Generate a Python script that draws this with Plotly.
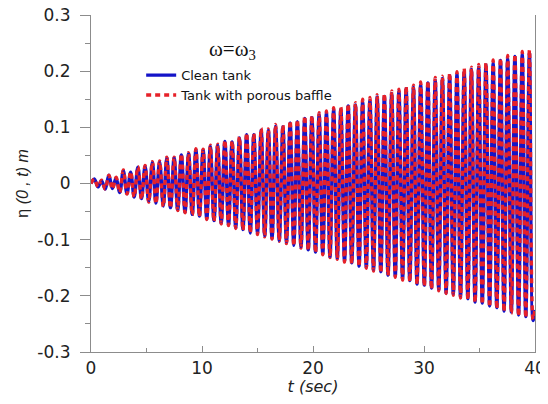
import plotly.graph_objects as go

# ---- data (extrema of the free-surface elevation) ----
peak_t = [0.30, 0.95, 1.61, 2.26, 2.91, 3.57, 4.22, 4.87, 5.53, 6.18,
          6.83, 7.49, 8.14, 8.79, 9.45, 10.10, 10.75, 11.41, 12.06, 12.71,
          13.37, 14.02, 14.67, 15.33, 15.98, 16.63, 17.29, 17.94, 18.59, 19.25,
          19.90, 20.55, 21.21, 21.86, 22.51, 23.17, 23.82, 24.47, 25.13, 25.78,
          26.43, 27.09, 27.74, 28.39, 29.05, 29.70, 30.35, 31.01, 31.66, 32.31,
          32.97, 33.62, 34.27, 34.93, 35.58, 36.23, 36.89, 37.54, 38.19, 38.85,
          39.50]
trough_t = [0.63, 1.28, 1.93, 2.59, 3.24, 3.89, 4.55, 5.20, 5.85, 6.51,
            7.16, 7.81, 8.47, 9.12, 9.77, 10.43, 11.08, 11.73, 12.39, 13.04,
            13.69, 14.35, 15.00, 15.65, 16.31, 16.96, 17.61, 18.27, 18.92, 19.57,
            20.23, 20.88, 21.53, 22.19, 22.84, 23.49, 24.15, 24.80, 25.45, 26.11,
            26.76, 27.41, 28.07, 28.72, 29.37, 30.03, 30.68, 31.33, 31.99, 32.64,
            33.29, 33.95, 34.60, 35.25, 35.91, 36.56, 37.21, 37.87, 38.52, 39.17,
            39.83]

clean_peaks = [0.008, 0.005, 0.015, 0.010, 0.023, 0.020, 0.029, 0.031, 0.038, 0.039,
               0.046, 0.046, 0.051, 0.053, 0.060, 0.060, 0.066, 0.068, 0.075, 0.074,
               0.081, 0.087, 0.087, 0.095, 0.095, 0.102, 0.101, 0.108, 0.110, 0.116,
               0.117, 0.122, 0.125, 0.131, 0.132, 0.138, 0.140, 0.145, 0.148, 0.154,
               0.155, 0.160, 0.164, 0.169, 0.171, 0.176, 0.179, 0.184, 0.187, 0.192,
               0.195, 0.199, 0.203, 0.207, 0.211, 0.214, 0.219, 0.222, 0.226, 0.230,
               0.233]
clean_troughs = [-0.006, -0.010, -0.009, -0.016, -0.018, -0.024, -0.027, -0.032, -0.035, -0.040,
                 -0.043, -0.047, -0.051, -0.055, -0.058, -0.063, -0.066, -0.071, -0.074, -0.079,
                 -0.082, -0.088, -0.089, -0.094, -0.098, -0.102, -0.106, -0.110, -0.114, -0.118,
                 -0.122, -0.125, -0.131, -0.133, -0.138, -0.141, -0.147, -0.149, -0.154, -0.157,
                 -0.163, -0.165, -0.170, -0.173, -0.179, -0.181, -0.186, -0.189, -0.195, -0.197,
                 -0.202, -0.205, -0.211, -0.213, -0.218, -0.221, -0.227, -0.229, -0.234, -0.237,
                 -0.244]

baffle_peaks = [0.008, 0.006, 0.015, 0.011, 0.024, 0.021, 0.030, 0.032, 0.039, 0.040,
                0.047, 0.047, 0.053, 0.055, 0.062, 0.061, 0.068, 0.070, 0.077, 0.076,
                0.083, 0.090, 0.089, 0.098, 0.097, 0.105, 0.104, 0.112, 0.114, 0.120,
                0.121, 0.126, 0.129, 0.135, 0.136, 0.142, 0.144, 0.150, 0.153, 0.158,
                0.160, 0.165, 0.168, 0.173, 0.175, 0.181, 0.183, 0.189, 0.191, 0.197,
                0.199, 0.205, 0.207, 0.212, 0.215, 0.220, 0.223, 0.228, 0.230, 0.235,
                0.238]
baffle_troughs = [-0.006, -0.010, -0.010, -0.016, -0.019, -0.024, -0.028, -0.033, -0.036, -0.041,
                  -0.044, -0.048, -0.052, -0.056, -0.059, -0.064, -0.067, -0.072, -0.075, -0.080,
                  -0.083, -0.088, -0.091, -0.095, -0.099, -0.103, -0.107, -0.111, -0.115, -0.119,
                  -0.123, -0.127, -0.132, -0.135, -0.140, -0.143, -0.148, -0.151, -0.156, -0.159,
                  -0.164, -0.167, -0.172, -0.175, -0.180, -0.183, -0.188, -0.191, -0.196, -0.199,
                  -0.204, -0.207, -0.212, -0.215, -0.220, -0.223, -0.228, -0.231, -0.236, -0.239,
                  -0.242]

t_start, t_end = 0.0, 40.0
clean_start, clean_end = 0.0, -0.225
baffle_start, baffle_end = 0.0, -0.222

series_names = ["Clean tank", "Tank with porous baffle"]

x_tick_vals = [0, 10, 20, 30, 40]
x_tick_text = ["0", "10", "20", "30", "40"]
x_minor_vals = [5, 15, 25, 35]
y_tick_vals = [-0.3, -0.2, -0.1, 0, 0.1, 0.2, 0.3]
y_tick_text = ["-0.3", "-0.2", "-0.1", "0", "0.1", "0.2", "0.3"]


def build(start, peaks, troughs, end):
    xs, ys = [t_start], [start]
    for tp, p, tt, q in zip(peak_t, peaks, trough_t, troughs):
        xs += [tp, tt]
        ys += [p, q]
    xs.append(t_end)
    ys.append(end)
    return xs, ys


cx, cy = build(clean_start, clean_peaks, clean_troughs, clean_end)
bx, by = build(baffle_start, baffle_peaks, baffle_troughs, baffle_end)

fig = go.Figure()
fig.add_trace(go.Scatter(x=cx, y=cy, mode="lines", name=series_names[0],
                         line=dict(color="#1414c8", width=3.4, shape="spline", smoothing=1.0)))
fig.add_trace(go.Scatter(x=bx, y=by, mode="lines", name=series_names[1],
                         line=dict(color="#e62129", width=3.4, dash="5px,4px",
                                   shape="spline", smoothing=1.0)))

axis_col = "#8c8c8c"
tick_font = dict(family="DejaVu Sans", size=17, color="#222222")

# page has an 8px body margin, so the figure is sized to fit the 548x404 window
fig.update_layout(
    width=540, height=396,
    margin=dict(l=83, r=13, t=7, b=52, autoexpand=False),
    paper_bgcolor="white", plot_bgcolor="white",
    showlegend=True,
    legend=dict(x=0.113, y=0.866, xanchor="left", yanchor="top",
                bgcolor="rgba(0,0,0,0)", font=dict(family="DejaVu Sans", size=13, color="#111111"),
                tracegroupgap=0),
    xaxis=dict(range=[0, 40], showline=True, linecolor=axis_col, linewidth=1.2,
               automargin=False,
               ticks="inside", ticklen=6, tickcolor=axis_col, tickwidth=1.2,
               tickvals=x_tick_vals, ticktext=x_tick_text, tickfont=tick_font,
               ticklabeloverflow="allow",
               minor=dict(tickvals=x_minor_vals, ticks="inside", ticklen=4, tickcolor=axis_col),
               showgrid=False, zeroline=False,
               title=dict(text="<i>t (sec)</i>", font=dict(family="DejaVu Sans", size=16, color="#222222"),
                          standoff=2)),
    yaxis=dict(range=[-0.3, 0.3], showline=True, mirror=True, linecolor=axis_col, linewidth=1.2,
               automargin=False,
               ticks="outside", ticklen=10, tickcolor=axis_col, tickwidth=1.2,
               tickvals=y_tick_vals, ticktext=y_tick_text, tickfont=tick_font,
               ticklabelstandoff=6, ticklabeloverflow="allow",
               minor=dict(dtick=0.05, ticks="outside", ticklen=5, tickcolor=axis_col),
               showgrid=False, zeroline=False,
               title=dict(text="η <i>(0 , t) m</i>", font=dict(family="Liberation Sans", size=16, color="#222222"),
                          standoff=4)),
)

fig.add_annotation(text="ω=ω<sub>3</sub>", xref="paper", yref="paper", x=0.318, y=0.896,
                   xanchor="center", yanchor="middle", showarrow=False,
                   font=dict(family="Liberation Serif", size=21, color="#111111"))

fig.write_html("out.html")
